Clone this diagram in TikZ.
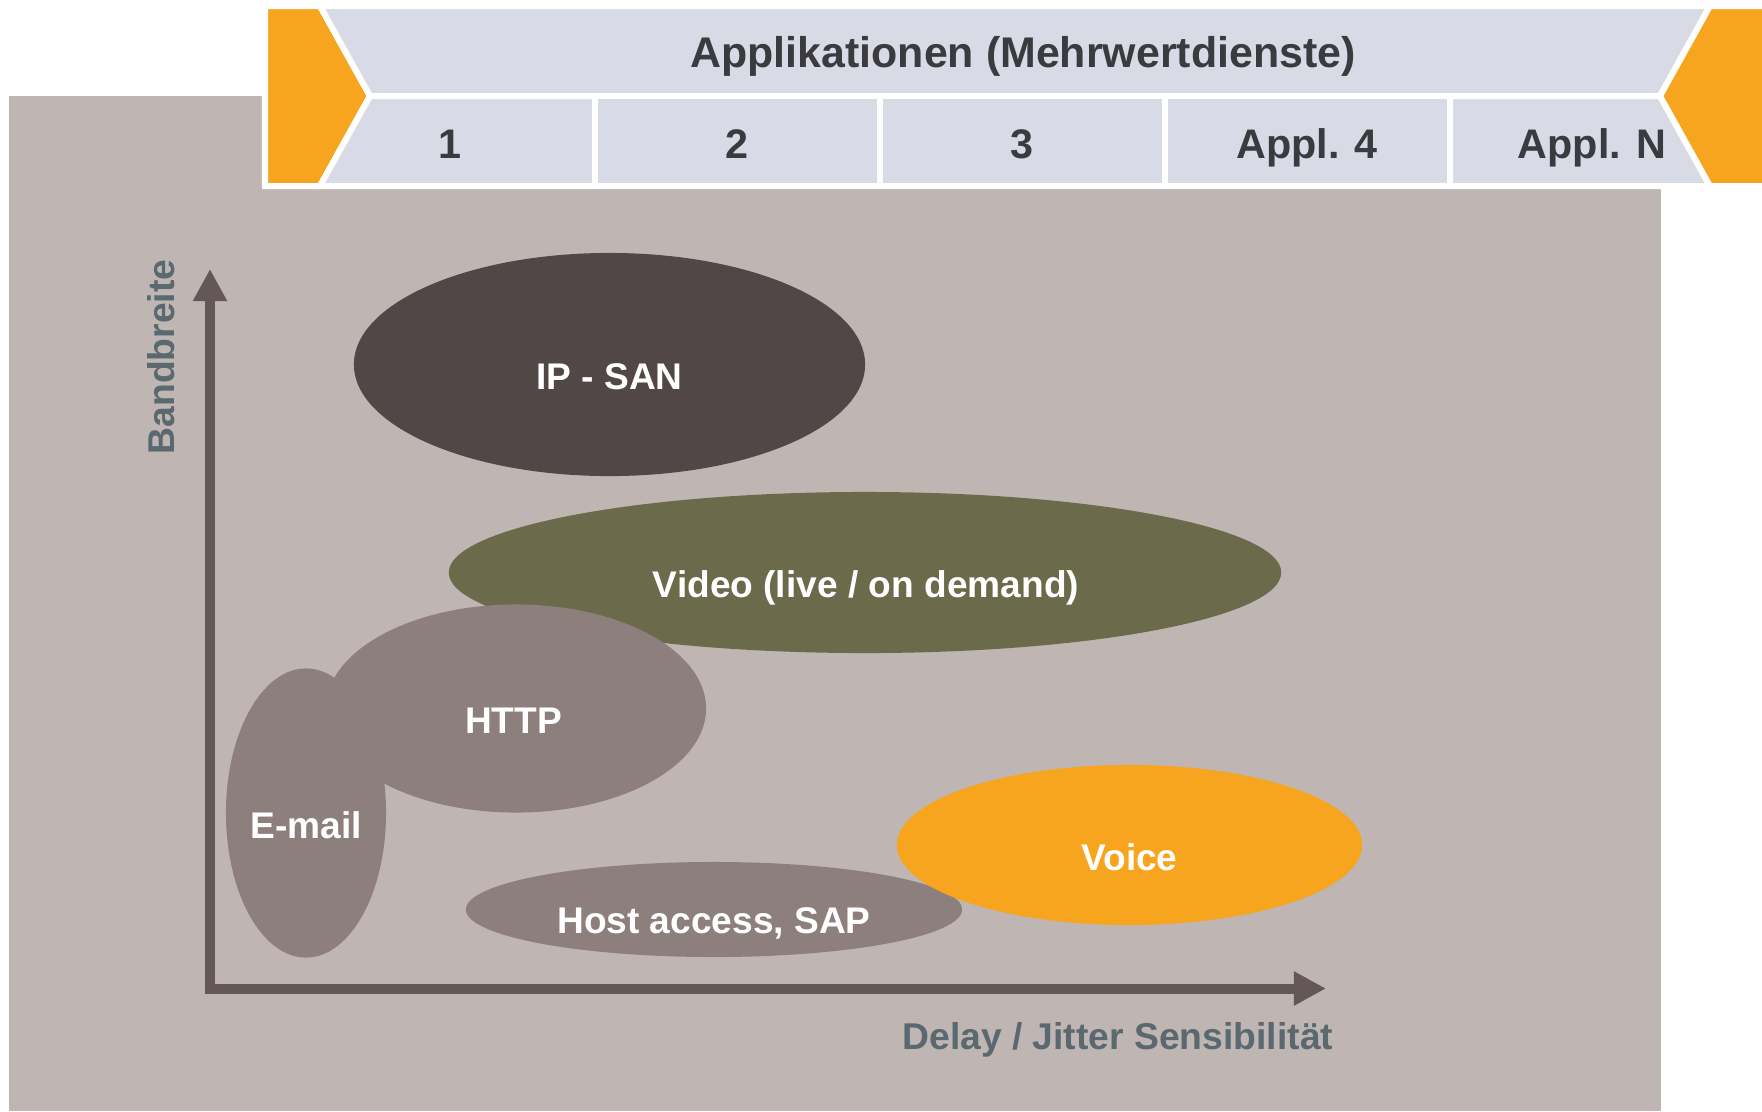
\documentclass[tikz,border=0pt]{standalone}
\usepackage{fontspec}
\setmainfont{Liberation Sans}
\usetikzlibrary{arrows.meta,calc,shapes.geometric}
\definecolor{bggray}{HTML}{BFB5B2}
\definecolor{bannergray}{HTML}{D8DAE5}
\definecolor{wingorange}{HTML}{F7A51E}
\definecolor{textdark}{HTML}{3A3A3F}
\definecolor{axisbrown}{HTML}{635757}
\definecolor{slate}{HTML}{5A6870}
\definecolor{ipsancol}{HTML}{504746}
\definecolor{videocol}{HTML}{6B6A4B}
\definecolor{datacol}{HTML}{8D7F7C}

\begin{document}
\begin{tikzpicture}[x=0.01cm,y=-0.01cm,
	gap/.style={draw=white,line width=0.06cm,line join=miter},
	bannerpart/.style={gap,fill=bannergray},
	wing/.style={gap,fill=wingorange},
	celltext/.style={anchor=base,inner sep=0pt,text=textdark,font=\fontsize{11.75}{14}\selectfont\bfseries},
	blob/.style={ellipse,inner sep=0pt,draw=none},
	blobtext/.style={anchor=base,inner sep=0pt,text=white,font=\fontsize{10.55}{13}\selectfont\bfseries},
	axislabel/.style={inner sep=0pt,text=slate,font=\fontsize{10.6}{13}\selectfont\bfseries},
	axisline/.style={draw=axisbrown,line width=0.1cm,line join=miter,
		{Triangle[width=0.32cm,length=0.32cm]}-{Triangle[width=0.32cm,length=0.32cm]}}]
			%%%%% START %%%%%
			\useasboundingbox (0,0) rectangle (1762,1111);
			
			\fill[bggray] (9,96) rectangle (1661,1111);
			\fill[white] (262,0) rectangle (1762,189);
			
			% banner
			\draw[wing] (265,6) -- (320,6) -- (370,96) -- (320,186) -- (265,186) -- cycle;
			\draw[bannerpart] (320,6) -- (1710,6) -- (1660,96) -- (370,96) -- cycle;
			\draw[bannerpart] (370,96) -- (595,96) -- (595,186) -- (320,186) -- cycle;
			\draw[bannerpart] (595,96) rectangle (880,186);
			\draw[bannerpart] (880,96) rectangle (1165,186);
			\draw[bannerpart] (1165,96) rectangle (1450,186);
			\draw[bannerpart] (1450,96) -- (1660,96) -- (1710,186) -- (1450,186) -- cycle;
			\draw[wing] (1710,6) -- (1768,6) -- (1768,186) -- (1710,186) -- (1660,96) -- cycle;
			
			\node[celltext, font=\fontsize{12.2}{14}\selectfont\bfseries] (apps) at (1023,67) {Applikationen (Mehrwertdienste)};
			\node[celltext] (app1) at (450,158) {1};
			\node[celltext] (app2) at (737,158) {2};
			\node[celltext] (app3) at (1022,158) {3};
			\node[celltext] (app4) at (1307,158) {Appl. 4};
			\node[celltext] (appN) at (1592,158) {Appl. N};
			
			% axes
			\coordinate (ytip) at (210,269);
			\coordinate (xtip) at (1326,988.5);
			\draw[axisline] (ytip) |- (xtip);
			\node[axislabel, anchor=base, rotate=90] (ylabel) at (175,357) {Bandbreite};
			\node[axislabel, anchor=base east] (xlabel) at (1334,1049) {Delay / Jitter Sensibilität};
			
			% services
			\node[blob, fill=ipsancol, minimum width=5.11cm, minimum height=2.23cm] (ipsan) at (609.5,364.5) {};
			\node[blob, fill=videocol, minimum width=8.32cm, minimum height=1.61cm] (video) at (865,572.5) {};
			\node[blob, fill=datacol, minimum width=3.80cm, minimum height=2.08cm] (http) at (516,708.5) {};
			\node[blob, fill=datacol, minimum width=1.60cm, minimum height=2.89cm] (email) at (306,813) {};
			\node[blob, fill=datacol, minimum width=4.96cm, minimum height=0.95cm] (host) at (714,909.5) {};
			\node[blob, fill=wingorange, minimum width=4.65cm, minimum height=1.60cm] (voice) at (1129.5,845) {};
			
			\node[blobtext] (ipsantext) at ($(ipsan.center)+(0,24.5)$) {IP - SAN};
			\node[blobtext] (videotext) at ($(video.center)+(1,25)$) {Video (live / on demand)};
			\node[blobtext] (httptext) at ($(http.center)+(-2.5,24.5)$) {HTTP};
			\node[blobtext] (emailtext) at ($(email.center)+(0,25.5)$) {E-mail};
			\node[blobtext] (hosttext) at ($(host.center)+(0,24)$) {Host access, SAP};
			\node[blobtext] (voicetext) at ($(voice.center)+(0,25)$) {Voice};
			
			%%%%% END %%%%%
		\end{tikzpicture}
\end{document}
